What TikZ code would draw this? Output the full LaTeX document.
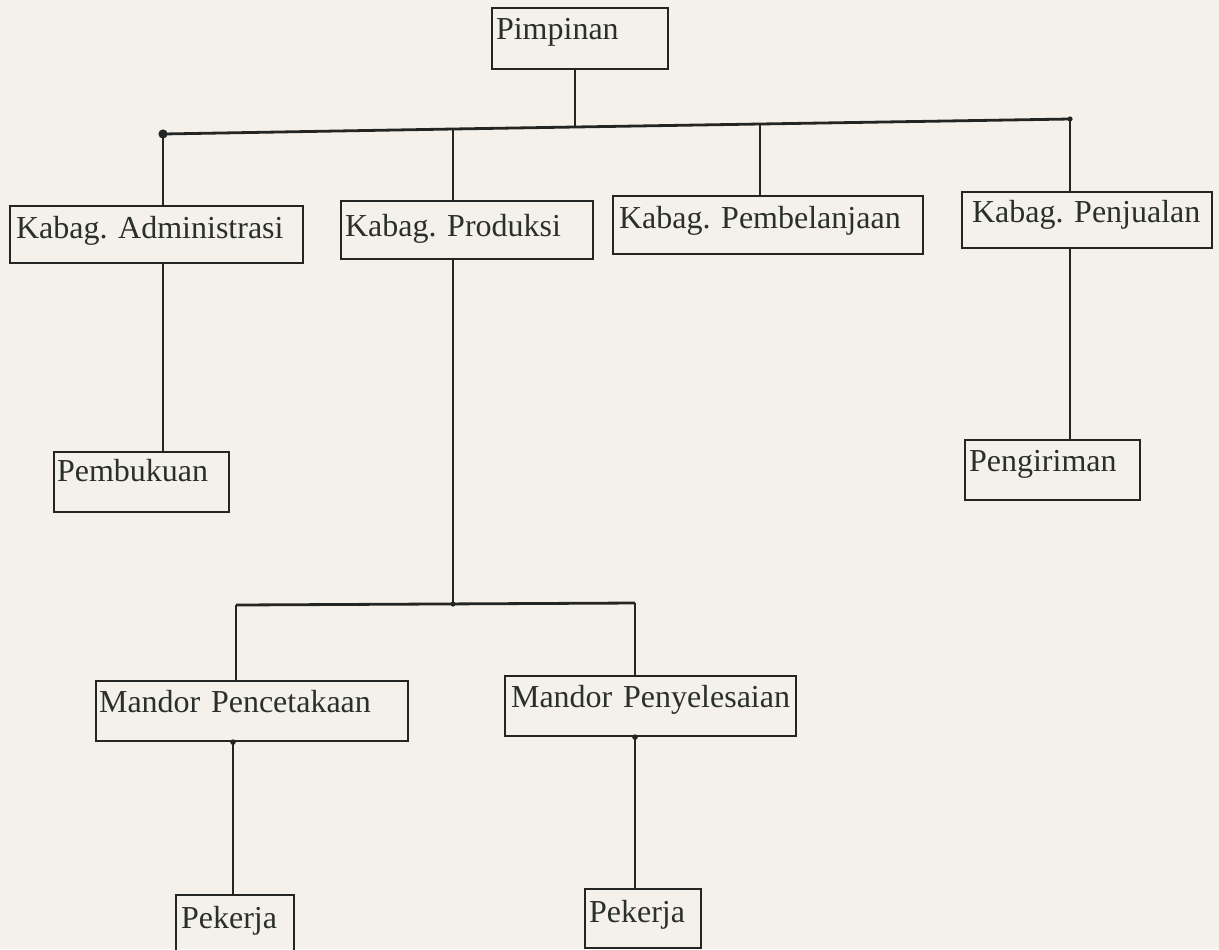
\documentclass[tikz,border=0pt]{standalone}
\usepackage{fontspec}
\setmainfont{Liberation Serif}
\definecolor{linec}{HTML}{232523}
\definecolor{txtc}{HTML}{2A2F2C}
\definecolor{bgc}{HTML}{F4F1EA}
\begin{document}
\frenchspacing
\begin{tikzpicture}[x=0.5pt,y=-0.5pt,
  bx/.style={draw=linec, line width=1.05pt, anchor=north west, inner ysep=0pt,
             align=left, text=txtc, font=\fontsize{16pt}{19pt}\selectfont},
  conn/.style={draw=linec, line width=1.4pt}]
\fill[bgc] (0,0) rectangle (1219,949);
\useasboundingbox (0,0) rectangle (1219,949);

% boxes
\node[bx, inner xsep=2pt, text width=84pt,  text height=15.5pt, text depth=15pt] (pim)   at (491,7)   {\mbox{Pimpinan}};
\node[bx, inner xsep=3pt, text width=140.5pt, text height=16pt, text depth=12.5pt] (adm)  at (9,205)   {\mbox{Kabag. Administrasi}};
\node[bx, inner xsep=2pt, text width=122pt, text height=17.5pt, text depth=11.5pt] (prod)    at (340,200) {\mbox{Kabag. Produksi}};
\node[bx, inner xsep=3pt, text width=149pt, text height=16pt, text depth=13pt] (pemb)    at (612,195) {\mbox{Kabag. Pembelanjaan}};
\node[bx, inner xsep=5pt, text width=115pt, text height=15pt, text depth=13pt] (penj)    at (961,191) {\mbox{Kabag. Penjualan}};
\node[bx, inner xsep=1.5pt, text width=84.5pt, text height=14.5pt, text depth=15.5pt] (buku) at (53,451)  {\mbox{Pembukuan}};
\node[bx, inner xsep=2pt, text width=83.5pt, text height=15.5pt, text depth=14.5pt] (kirim)  at (964,439) {\mbox{Pengiriman}};
\node[bx, inner xsep=1.5pt, text width=153pt, text height=15.5pt, text depth=14.5pt] (mpc)  at (95,680)  {\mbox{Mandor Pencetakaan}};
\node[bx, inner xsep=3pt, text width=139.5pt, text height=15.5pt, text depth=14.5pt] (mpy)  at (504,675) {\mbox{Mandor Penyelesaian}};
\node[bx, inner xsep=2.5pt, text width=54pt, text height=16.5pt, text depth=14.5pt] (pkA)   at (175,894) {\mbox{Pekerja}};
\node[bx, inner xsep=2pt, text width=54pt, text height=16.5pt, text depth=13pt] (pkB)   at (584,888) {\mbox{Pekerja}};

% main bus
\coordinate (bA) at (163,134);
\coordinate (bB) at (453,129);
\coordinate (bP) at (575,127);
\coordinate (bC) at (760,124);
\coordinate (bD) at (1070,119);
\draw[conn] (bA) -- (bB) -- (bP) -- (bC) -- (bD);
\fill[linec] (bA) circle (2.3pt);
\fill[linec] (bD) circle (1.3pt);
\draw[conn] (pim.south -| bP) -- (bP);
\draw[conn] (bA) -- (bA |- adm.north);
\draw[conn] (bB) -- (bB |- prod.north);
\draw[conn] (bC) -- (bC |- pemb.north);
\draw[conn] (bD) -- (bD |- penj.north);

% second level
\draw[conn] (bA |- adm.south) -- (bA |- buku.north);
\draw[conn] (bD |- penj.south) -- (bD |- kirim.north);

% production sub-bus
\coordinate (sP) at (453,604);
\coordinate (sL) at (236,605);
\coordinate (sR) at (635,603);
\draw[conn] (bB |- prod.south) -- (sP);
\draw[conn] (sL) -- (sR);
\draw[conn] (sL) -- (sL |- mpc.north);
\draw[conn] (sR) -- (sR |- mpy.north);
\fill[linec] (sP) circle (1.3pt);

% workers
\coordinate (wL) at (233,800);
\coordinate (wR) at (635,800);
\draw[conn] (wL |- mpc.south) -- (wL |- pkA.north);
\draw[conn] (wR |- mpy.south) -- (wR |- pkB.north);
\fill[linec] (wL |- mpc.south) circle (1.4pt);
\fill[linec] (wR |- mpy.south) circle (1.4pt);
\end{tikzpicture}
\end{document}
